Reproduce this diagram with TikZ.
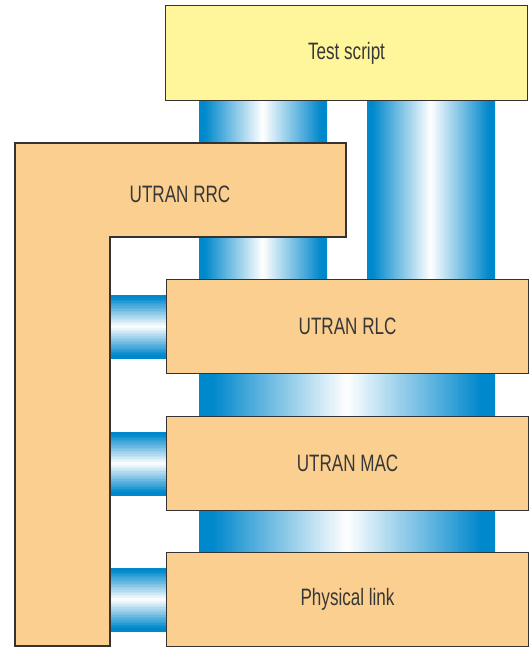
\documentclass[tikz,border=0pt]{standalone}
\usepackage{fontspec}
\setmainfont{Liberation Sans}[FakeStretch=0.72]
\usepackage{xcolor}
\usetikzlibrary{positioning}

\definecolor{scriptyellow}{RGB}{255,245,155}
\definecolor{layerorange}{RGB}{251,207,143}
\definecolor{pipeblue}{RGB}{0,136,204}
\definecolor{labelgray}{RGB}{55,55,55}

\tikzset{
  layerbox/.style={draw=black!80, line width=0.7pt, fill=layerorange, text=labelgray,
    minimum width=7.24cm, minimum height=1.88cm, inner sep=0pt, anchor=north west},
}

% blue pipe, white down the middle: \hpipe runs left-right, \vpipe top-bottom
\newcommand{\hpipe}[4]{%
  \begin{scope}
    \clip (#1,#2) rectangle (#3,#4);
    \foreach \i in {0,...,99} {%
      \pgfmathsetmacro{\shadepct}{min(100,110*abs((\i+0.5)/50-1))}%
      \fill[pipeblue!\shadepct!white] ({#1+(#3-#1)/100*\i},#2) rectangle ({#1+(#3-#1)/100*(\i+1.5)},#4);
    }
  \end{scope}}
\newcommand{\vpipe}[4]{%
  \begin{scope}
    \clip (#1,#2) rectangle (#3,#4);
    \foreach \i in {0,...,39} {%
      \pgfmathsetmacro{\shadepct}{min(100,110*abs((\i+0.5)/20-1))}%
      \fill[pipeblue!\shadepct!white] (#1,{#2+(#4-#2)/40*\i}) rectangle (#3,{#2+(#4-#2)/40*(\i+1.5)});
    }
  \end{scope}}

\begin{document}
\begin{tikzpicture}[x=0.02cm, y=-0.02cm, font=\fontsize{13.5}{16}\selectfont]
      % 1 unit = 1 px of the 531 x 647 page
      \useasboundingbox (0,0) rectangle (531,647);
      % pipes first, the boxes sit on top of them
      \hpipe{199}{100}{327}{279}
      \hpipe{367}{100}{495}{279}
      \hpipe{199}{373}{495}{416}
      \hpipe{199}{510}{495}{552}
      \vpipe{110}{295}{167}{358}
      \vpipe{110}{432}{167}{495}
      \vpipe{110}{568}{167}{631}
      \node[layerbox, fill=scriptyellow, minimum height=1.9cm] (script) at (165,5) {Test script};
      \node[layerbox] (rlc) at (166,279) {UTRAN RLC};
      \node[layerbox] (mac) at (166,416) {UTRAN MAC};
      \node[layerbox] (phy) at (166,552) {Physical link};
      % RRC wraps round the left side
      \draw[layerbox] (15,143) -- (346,143) -- (346,237) -- (110,237) -- (110,646) -- (15,646) -- cycle;
      \node[text=labelgray] (rrc) at (180,194) {UTRAN RRC};
    \end{tikzpicture}
\end{document}
